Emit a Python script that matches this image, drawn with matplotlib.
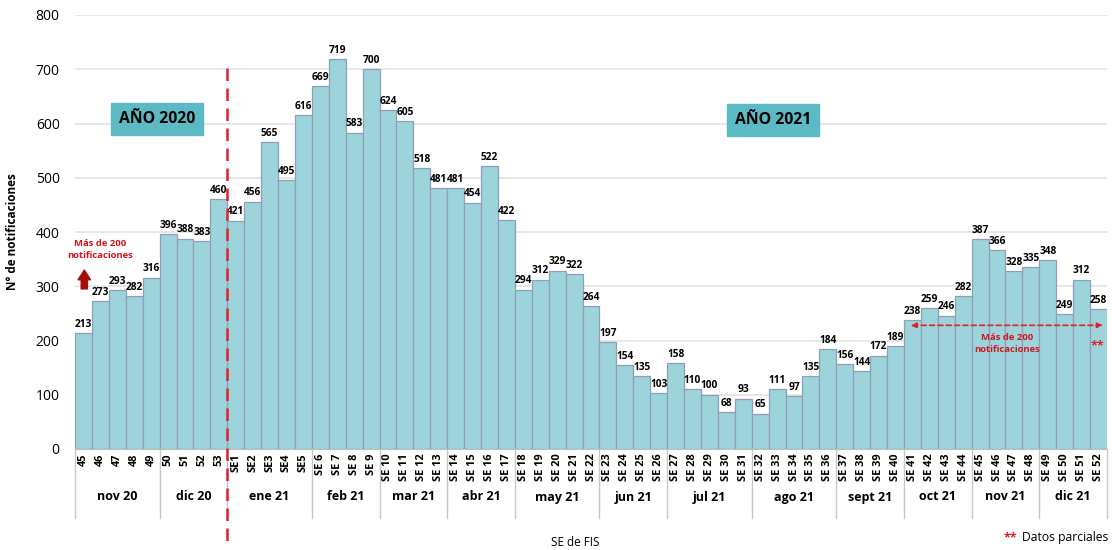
import matplotlib
matplotlib.use("Agg")
import matplotlib.pyplot as plt
import numpy as np

plt.rcParams['font.family'] = ['Open Sans', 'DejaVu Sans']

weeks = ["45", "46", "47", "48", "49", "50", "51", "52", "53",
         "SE1", "SE2", "SE3", "SE4", "SE5",
         "SE 6", "SE 7", "SE 8", "SE 9",
         "SE 10", "SE 11", "SE 12", "SE 13",
         "SE 14", "SE 15", "SE 16", "SE 17",
         "SE 18", "SE 19", "SE 20", "SE 21", "SE 22",
         "SE 23", "SE 24", "SE 25", "SE 26",
         "SE 27", "SE 28", "SE 29", "SE 30", "SE 31",
         "SE 32", "SE 33", "SE 34", "SE 35", "SE 36",
         "SE 37", "SE 38", "SE 39", "SE 40",
         "SE 41", "SE 42", "SE 43", "SE 44",
         "SE 45", "SE 46", "SE 47", "SE 48",
         "SE 49", "SE 50", "SE 51", "SE 52"]
values = [213, 273, 293, 282, 316, 396, 388, 383, 460,
          421, 456, 565, 495, 616,
          669, 719, 583, 700,
          624, 605, 518, 481,
          481, 454, 522, 422,
          294, 312, 329, 322, 264,
          197, 154, 135, 103,
          158, 110, 100, 68, 93,
          65, 111, 97, 135, 184,
          156, 144, 172, 189,
          238, 259, 246, 282,
          387, 366, 328, 335,
          348, 249, 312, 258]
months = ["nov 20", "dic 20", "ene 21", "feb 21", "mar 21", "abr 21", "may 21",
          "jun 21", "jul 21", "ago 21", "sept 21", "oct 21", "nov 21", "dic 21"]
month_sizes = [5, 4, 5, 4, 4, 4, 5, 4, 5, 5, 4, 4, 4, 4]

W, H = 1112, 550
fig = plt.figure(figsize=(W / 100, H / 100), dpi=100)
x0, x1, y0, y1 = 75, 1107, 449, 15
ax = fig.add_axes([x0 / W, (H - y0) / H, (x1 - x0) / W, (y0 - y1) / H])

n = len(values)
x = np.arange(n)
ax.bar(x, values, width=1.0, color="#9dd3db", edgecolor="#8e9fbb", linewidth=0.9, zorder=2)
ax.set_xlim(-0.5, n - 0.5)
ax.set_ylim(0, 800)
ax.set_yticks(range(0, 801, 100))
ax.yaxis.grid(True, color="#e3e3e3", linewidth=1.2, zorder=0)
ax.set_axisbelow(True)
for s in ["top", "right", "left"]:
    ax.spines[s].set_visible(False)
ax.spines["bottom"].set_color("#bfbfbf")
ax.tick_params(axis="y", length=0, labelsize=10, pad=11)
ax.set_xticks(x)
ax.set_xticklabels(weeks, rotation=90, fontsize=7.9, fontweight="bold", va="top")
ax.tick_params(axis="x", length=0, pad=3)

for xi, v in zip(x, values):
    ax.text(xi, v + 6, str(v), ha="center", va="bottom", fontsize=7.3, fontweight="bold", zorder=4)

# month grouping
trans = ax.get_xaxis_transform()
start = 0
sep_bottom = -(518 - 449) / 434
ax.plot([-0.5, -0.5], [0, sep_bottom], transform=trans, color="#c8c8c8", lw=1, clip_on=False)
for m, sz in zip(months, month_sizes):
    end = start + sz
    ax.plot([end - 0.5, end - 0.5], [0, sep_bottom], transform=trans, color="#c8c8c8", lw=1, clip_on=False)
    ax.text((start + end - 1) / 2, -(497 - 449) / 434, m, transform=trans, ha="center", va="center",
            fontsize=9, fontweight="bold")
    start = end

# dashed year divider
ax.plot([8.5, 8.5], [(449 - 68) / 434, -(545 - 449) / 434], transform=trans, color="#e0202a",
        lw=1.8, ls=(0, (5, 3)), clip_on=False, zorder=5)

# year boxes
box = dict(boxstyle="square,pad=0.5", fc="#5bbac3", ec="#5bbac3")
ax.text(4.35, 608, "AÑO 2020", ha="center", va="center", fontsize=11.3, fontweight="bold",
        bbox=box, zorder=5)
ax.text(40.75, 606, "AÑO 2021", ha="center", va="center", fontsize=11.3, fontweight="bold",
        bbox=box, zorder=5)

# left annotation
ax.text(1.0, 368, "Más de 200\nnotificaciones", ha="center", va="center", fontsize=6.8,
        fontweight="bold", color="#d0161e", linespacing=1.4, zorder=5)
ax.annotate("", xy=(0.05, 335), xytext=(0.05, 290),
            arrowprops=dict(arrowstyle="simple,head_width=0.9,head_length=0.7,tail_width=0.45",
                            fc="#a80d0d", ec="#a80d0d"), zorder=5)

# right annotation
ax.annotate("", xy=(48.7, 228), xytext=(60.45, 228),
            arrowprops=dict(arrowstyle="<|-|>,head_width=0.15,head_length=0.35", color="#e0202a",
                            lw=1.2, ls=(0, (3, 2))), zorder=5)
ax.text(54.6, 195, "Más de 200\nnotificaciones", ha="center", va="center", fontsize=6.8,
        fontweight="bold", color="#d0161e", linespacing=1.4, zorder=5)
ax.text(59.95, 190, "**", ha="center", va="center", fontsize=9, fontweight="bold",
        color="#e0202a", zorder=5)

ax.set_ylabel("N° de notificaciones", fontsize=8.5, fontweight="bold", labelpad=12)
fig.text(575 / W, 1 - 543 / H, "SE de FIS", ha="center", va="center", fontsize=8.5)

dp = fig.text(1108 / W, 1 - 538 / H, "Datos parciales", ha="right", va="center", fontsize=8.7)
fig.canvas.draw()
bb = dp.get_window_extent(fig.canvas.get_renderer())
fig.text((bb.x0 - 4) / W, 1 - 538 / H, "**", ha="right", va="center", fontsize=9, fontweight="bold",
         color="#e0202a")

fig.savefig("out.png", dpi=100)
